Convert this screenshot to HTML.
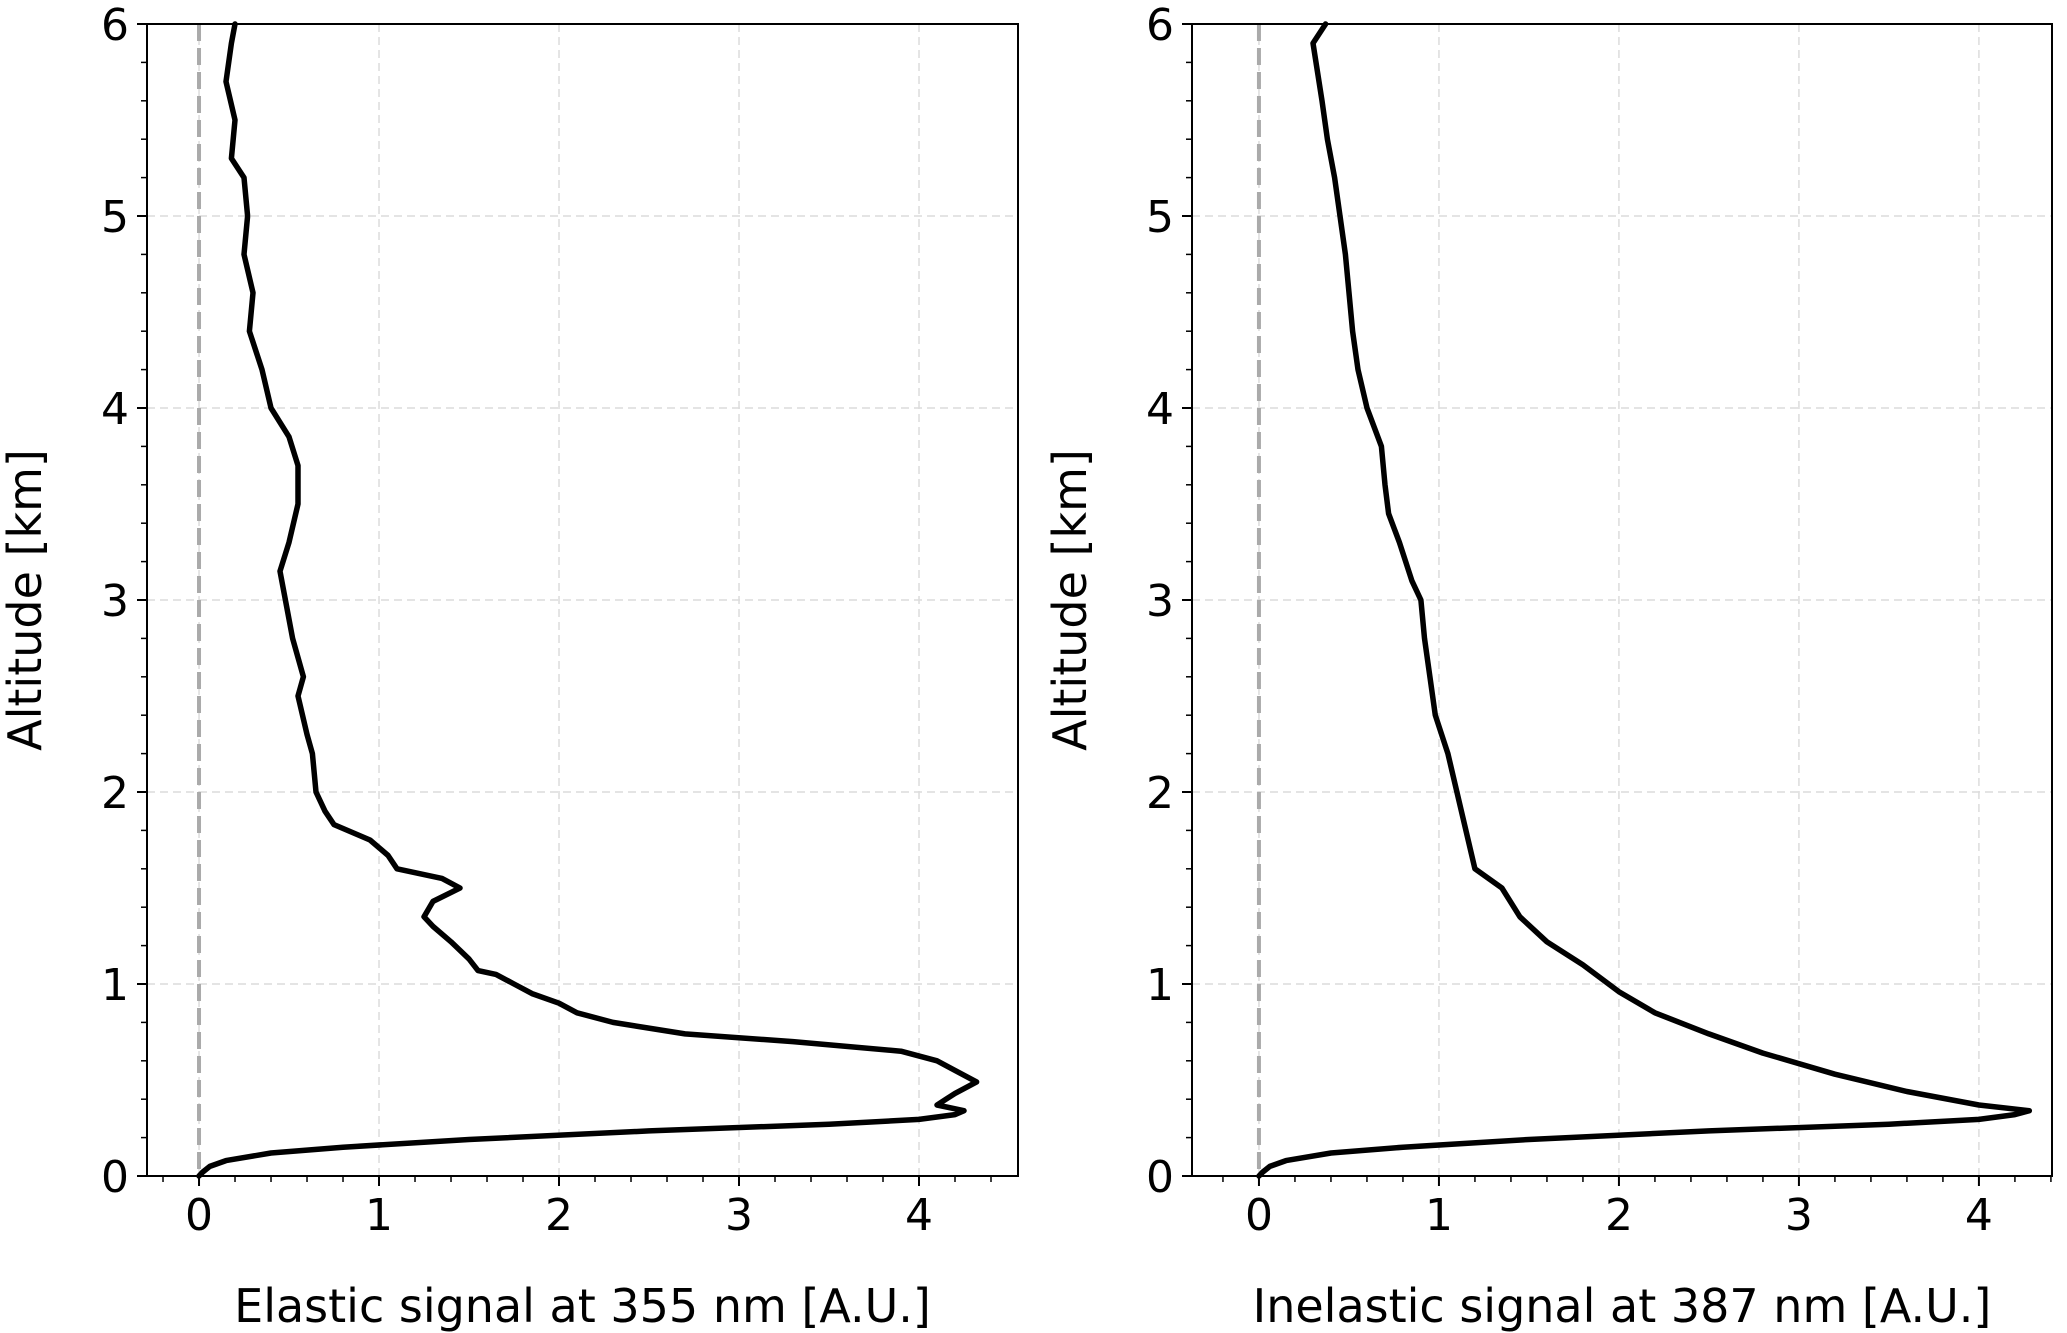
<!DOCTYPE html>
<html><head><meta charset="utf-8"><style>
html,body{margin:0;padding:0;background:#fff}
svg{display:block}
text{font-family:"DejaVu Sans","Liberation Sans",sans-serif;fill:#000}
</style></head><body>
<svg id="fig" width="2067" height="1333" viewBox="0 0 2067 1333" xmlns="http://www.w3.org/2000/svg"></svg>
<script>
// Elastic signal at 355 nm (value, altitude km)
const elasticSignal=[0,0.02,0.06,0.15,0.4,0.8,1.5,2.5,3.5,4.0,4.2,4.25,4.1,4.15,4.2,4.32,4.2,4.1,3.9,3.3,2.7,2.3,2.1,2.0,1.85,1.75,1.65,1.55,1.5,1.4,1.3,1.25,1.3,1.45,1.35,1.1,1.05,0.95,0.75,0.7,0.65,0.63,0.6,0.55,0.58,0.52,0.48,0.45,0.5,0.55,0.55,0.5,0.4,0.35,0.28,0.3,0.25,0.27,0.25,0.18,0.2,0.15,0.18,0.2];
const elasticAlt=[0,0.02,0.05,0.08,0.12,0.15,0.19,0.235,0.27,0.295,0.32,0.34,0.37,0.40,0.43,0.49,0.55,0.60,0.65,0.70,0.74,0.80,0.85,0.90,0.95,1.0,1.05,1.07,1.13,1.22,1.30,1.35,1.43,1.5,1.55,1.6,1.67,1.75,1.83,1.9,2.0,2.2,2.3,2.5,2.6,2.8,3.0,3.15,3.3,3.5,3.7,3.85,4.0,4.2,4.4,4.6,4.8,5.0,5.2,5.3,5.5,5.7,5.9,6.0];
// Inelastic signal at 387 nm
const inelasticSignal=[0,0.02,0.06,0.15,0.4,0.8,1.5,2.5,3.5,4.0,4.2,4.28,4.0,3.6,3.2,2.8,2.5,2.2,2.0,1.8,1.6,1.45,1.35,1.2,1.15,1.1,1.05,0.98,0.95,0.92,0.9,0.85,0.78,0.72,0.7,0.68,0.6,0.55,0.52,0.5,0.48,0.45,0.42,0.38,0.35,0.3,0.37];
const inelasticAlt=[0,0.02,0.05,0.08,0.12,0.15,0.19,0.235,0.27,0.295,0.32,0.34,0.37,0.44,0.53,0.64,0.74,0.85,0.96,1.1,1.22,1.35,1.5,1.6,1.8,2.0,2.2,2.4,2.6,2.8,3.0,3.1,3.3,3.45,3.6,3.8,4.0,4.2,4.4,4.6,4.8,5.0,5.2,5.4,5.6,5.9,6.0];
const xTicks=[0,1,2,3,4];
const yTicks=[0,1,2,3,4,5,6];

const NS="http://www.w3.org/2000/svg";
const svg=document.getElementById('fig');
function mk(tag,attrs,parent){const e=document.createElementNS(NS,tag);for(const k in attrs)e.setAttribute(k,attrs[k]);(parent||svg).appendChild(e);return e;}

function panel(p){
  const g=mk('g',{});
  
  
  const X=v=>p.x0+(v-p.xmin)/(p.xmax-p.xmin)*(p.x1-p.x0);
  const Y=v=>1176-v*192;
  xTicks.forEach(t=>{const l=mk('line',{x1:X(t),x2:X(t),y1:24,y2:1176,stroke:'#dcdcdc','stroke-width':1.5,'stroke-dasharray':'8,5'},g);
    
    });
  yTicks.forEach(t=>{const l=mk('line',{x1:p.x0,x2:p.x1,y1:Y(t),y2:Y(t),stroke:'#dcdcdc','stroke-width':1.5,'stroke-dasharray':'8,5'},g);
    
    });
  const z=mk('line',{x1:X(0),x2:X(0),y1:24,y2:1176,stroke:'#aaaaaa','stroke-width':4,'stroke-dasharray':'17,7'},g);
  
  
  const pts=p.vals.map((v,i)=>X(v).toFixed(1)+','+Y(p.alt[i]).toFixed(1)).join(' ');
  const c=mk('polyline',{points:pts,fill:'none',stroke:'#000','stroke-width':5.5,'stroke-linejoin':'round','stroke-linecap':'round'},g);
  
  
  const f=mk('rect',{x:p.x0,y:24,width:p.x1-p.x0,height:1152,fill:'none',stroke:'#000','stroke-width':2},g);
  
  
  for(let v=-1;v<=5.0001;v+=0.2){const vv=Math.round(v*10)/10;if(X(vv)<p.x0-1||X(vv)>p.x1+1)continue;
    const major=Math.abs(vv-Math.round(vv))<1e-6;
    mk('line',{x1:X(vv),x2:X(vv),y1:1176,y2:1176+(major?10:6),stroke:'#000','stroke-width':major?2:1.5},g);}
  xTicks.forEach(t=>{const tx=mk('text',{x:X(t),y:1230,'font-size':44,'text-anchor':'middle'},g);tx.textContent=t;
    
    });
  for(let v=0;v<=6.0001;v+=0.2){const vv=Math.round(v*10)/10;const major=Math.abs(vv-Math.round(vv))<1e-6;
    mk('line',{x1:p.x0,x2:p.x0-(major?10:6),y1:Y(vv),y2:Y(vv),stroke:'#000','stroke-width':major?2:1.5},g);}
  yTicks.forEach(t=>{const tx=mk('text',{x:p.x0-18,y:Y(t)+16,'font-size':44,'text-anchor':'end'},g);tx.textContent=t;
    
    });
  const xl=mk('text',{x:(p.x0+p.x1)/2,y:1322,'font-size':46,'text-anchor':'middle'},g);xl.textContent=p.xlabel;
  
  
  const yl=mk('text',{x:0,y:0,'font-size':46,'text-anchor':'middle',transform:`translate(${p.x0-106},600) rotate(-90)`},g);yl.textContent='Altitude [km]';
  
  
}
panel({name:'elastic-panel',series:'elastic-signal-line',x0:147,x1:1018,xmin:-0.289,xmax:4.55,vals:elasticSignal,alt:elasticAlt,xlabel:'Elastic signal at 355 nm [A.U.]'});
panel({name:'inelastic-panel',series:'inelastic-signal-line',x0:1192,x1:2052,xmin:-0.372,xmax:4.406,vals:inelasticSignal,alt:inelasticAlt,xlabel:'Inelastic signal at 387 nm [A.U.]'});
</script>
</body></html>
